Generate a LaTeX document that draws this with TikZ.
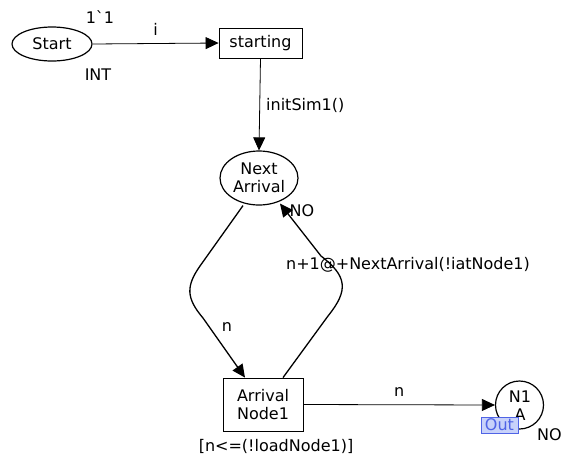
\documentclass[tikz,border=0pt]{standalone}
\usepackage{fontspec}
\setmainfont{DejaVu Sans}
\usetikzlibrary{arrows.meta,shapes.geometric,calc}
\definecolor{tagfill}{RGB}{200,210,250}
\definecolor{tagblue}{RGB}{80,100,230}
\tikzset{
  every node/.style={font=\fontsize{16}{18}\selectfont},
  place/.style={draw,ellipse,line width=1.2pt,inner sep=0pt},
  trans/.style={draw,rectangle,line width=0.8pt,inner sep=0pt,align=center},
  arc/.style={line width=0.8pt,-{Triangle[length=13pt,width=12pt]}},
  carc/.style={line width=1.3pt,-{Triangle[length=13pt,width=12pt]}},
  lbl/.style={inner sep=0pt},
}
\begin{document}
\begin{tikzpicture}[x=1pt,y=-1pt]
\useasboundingbox (0,0) rectangle (563,459);
\node[place,minimum width=80,minimum height=34] (start) at (52,44) {Start};
\node[lbl] (init) at (100,17) {1\textasciigrave 1};
\node[lbl] (type) at (98,75) {INT};
\node[trans,minimum width=83,minimum height=30] (starting) at (260.5,43) {starting};
\node[place,minimum width=78,minimum height=54,align=center] (next) at (259,178) {Next\\Arrival};
\node[trans,minimum width=80,minimum height=53] (arr) at (263,404.5) {Arrival\\Node1};
\node[draw,circle,line width=1.2pt,minimum size=48,inner sep=0pt] (n1) at (519.5,405) {};
\node[lbl] (n1a) at (520,397) {N1};
\node[lbl] (n1b) at (520,415) {A};
\node[draw=tagblue,fill=tagfill,text=tagblue,inner sep=1pt,minimum width=37,minimum height=16] (out) at (499.5,425) {Out};
\node[lbl,anchor=east] (no2) at (562,435) {NO};
\node[lbl] (guard) at (276,446) {[n<=(!loadNode1)]};

\draw[arc] (start.east) -- (starting.west) node[lbl,midway,above=8pt] (li) {i};
\draw[arc] (starting.south) -- (next.north);
\node[lbl,anchor=west] (linit) at (266,105) {initSim1()};
\draw[carc] ($(next.south)+(-16,0)$) -- (200,266) .. controls (186,286) and (186,298) .. (203,318) -- ($(arr.north)+(-18,0)$);
\draw[carc] ($(arr.north)+(20,0)$) -- (328,316) .. controls (349,290) and (347,276) .. (321,256) -- ($(next.south)+(21,-2)$);
\node[lbl] (no1) at (302,211) {NO};
\node[lbl] (lexp) at (408,265) {n+1@+NextArrival(!iatNode1)};
\node[lbl] (ln) at (227,327) {n};
\draw[arc] (arr.east) -- (n1.west) node[lbl,midway,above=8pt] (ln2) {n};
\end{tikzpicture}
\end{document}
